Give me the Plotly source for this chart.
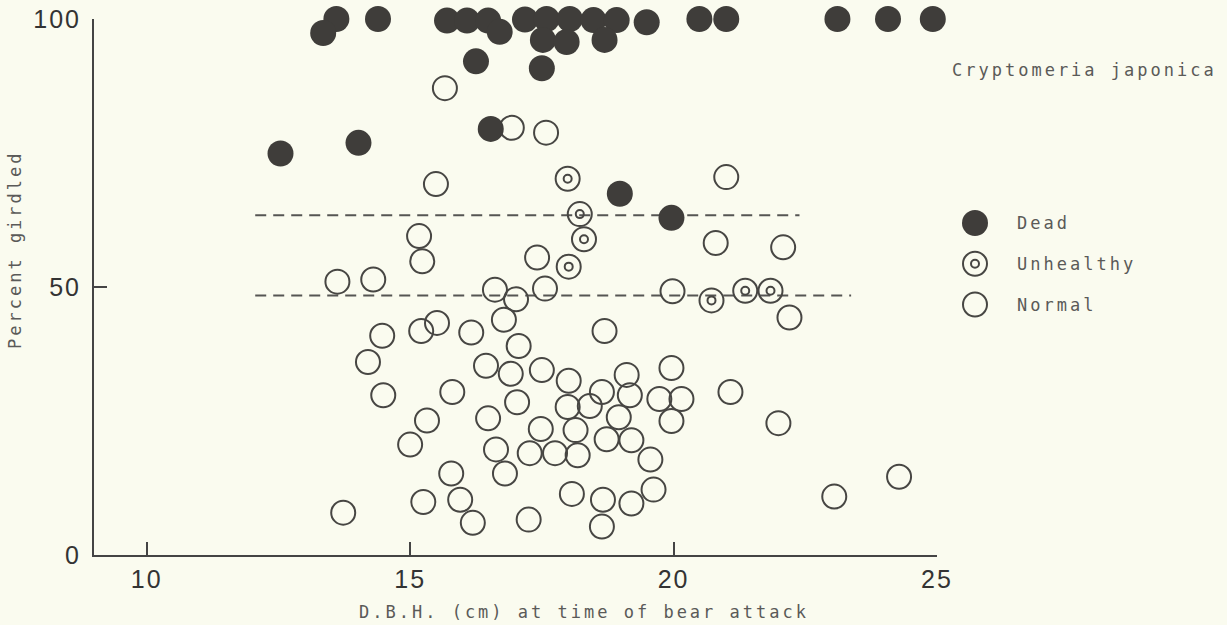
import plotly.graph_objects as go

# ---------------- data ----------------
dead_dbh = [13.60, 14.39, 15.70, 16.08, 16.48, 17.18, 17.59, 18.03, 18.48, 18.92,
            19.49, 20.49, 21.00, 23.11, 24.07, 24.92,
            13.35, 16.70, 17.52, 17.97, 18.69,
            16.25, 17.50, 16.53, 12.54, 14.02, 18.98, 19.96]
dead_pct = [100.0, 100.0, 99.7, 99.7, 99.7, 99.9, 100.0, 100.0, 99.8, 99.8,
            99.4, 100.0, 100.0, 100.0, 100.0, 100.0,
            97.4, 97.6, 96.1, 95.7, 96.1,
            92.1, 90.8, 79.5, 74.9, 76.9, 67.4, 62.9]

unhealthy_dbh = [17.99, 18.22, 18.30, 18.01, 20.72, 21.36, 21.84]
unhealthy_pct = [70.2, 63.6, 58.9, 53.8, 47.5, 49.3, 49.3]

normal_dbh = [15.66, 16.93, 17.58, 15.49, 21.00, 15.17, 15.23, 17.41, 20.80, 22.08,
              13.62, 14.30, 16.61, 17.01, 17.56, 19.98, 22.20, 16.78, 14.47, 15.21,
              15.51, 16.16, 18.69, 14.20, 17.06, 16.44, 16.91, 17.50, 18.01, 19.11,
              19.96, 14.49, 15.80, 17.03, 17.99, 18.41, 18.64, 19.17, 19.73, 20.15,
              21.08, 15.32, 16.48, 17.48, 18.14, 18.96, 19.96, 21.99, 15.00, 16.63,
              17.27, 17.75, 18.18, 18.73, 19.20, 19.56, 15.78, 16.80, 18.07, 18.66,
              19.20, 19.62, 15.25, 15.95, 16.19, 17.25, 18.64, 13.73, 23.05, 24.28]
normal_pct = [87.1, 79.7, 78.8, 69.2, 70.5, 59.5, 54.8, 55.5, 58.2, 57.4,
              51.0, 51.4, 49.5, 47.7, 49.7, 49.2, 44.3, 43.9, 40.9, 41.8,
              43.3, 41.5, 41.8, 36.0, 39.0, 35.3, 33.8, 34.5, 32.5, 33.6,
              34.9, 29.8, 30.4, 28.5, 27.6, 27.8, 30.4, 29.8, 29.1, 29.1,
              30.4, 25.1, 25.5, 23.5, 23.3, 25.7, 25.0, 24.6, 20.6, 19.7,
              19.0, 19.0, 18.6, 21.6, 21.4, 17.8, 15.2, 15.2, 11.4, 10.3,
              9.6, 12.2, 9.9, 10.3, 6.0, 6.6, 5.3, 7.9, 10.9, 14.6]

# dashed reference lines
threshold_pct = [63.4, 48.4]
threshold_from = [12.06, 12.06]
threshold_to = [22.39, 23.37]

x_ticks = [10, 15, 20, 25]
y_ticks = [0, 50, 100]
legend_labels = ["Dead", "Unhealthy", "Normal"]

species = "Cryptomeria japonica"
x_title = "D.B.H. (cm) at time of bear attack"
y_title = "Percent girdled"

# ---------------- style ----------------
BG = "#fafbef"
INK = "#3f3d3a"
RING = "#474643"
AXIS = "#444444"
TEXT_GRAY = "#5a5a58"
MONO = "DejaVu Sans Mono"
SANS = "Liberation Sans"

W, H = 1227, 625
ML, MR, MT, MB = 94, 0, 19, 70
PW = W - ML - MR
PH = H - MT - MB
main_right_px = 937


def spaced(s, px=3):
    return f'<span style="letter-spacing:{px}px">{s}</span>'


def px_to_paper_x(px):
    return (px - ML) / PW


def px_to_paper_y(py):
    return 1 - (py - MT) / PH


fig = go.Figure()

# dashed lines
for lvl, x0, x1 in zip(threshold_pct, threshold_from, threshold_to):
    fig.add_trace(go.Scatter(
        x=[x0, x1], y=[lvl, lvl], mode="lines",
        line=dict(color="#555553", width=2, dash="11px,7px"),
        hoverinfo="skip", showlegend=False))

ring_size = 24
ring_marker = dict(symbol="circle-open", size=ring_size, color=RING, line=dict(width=2, color=RING))
centre_marker = dict(symbol="circle-open", size=8, color=RING, line=dict(width=2, color=RING))
dead_marker = dict(symbol="circle", size=26, color=INK, line=dict(width=0, color=INK))

fig.add_trace(go.Scatter(x=normal_dbh, y=normal_pct, mode="markers", name="Normal",
                         marker=ring_marker, cliponaxis=False, showlegend=False))
fig.add_trace(go.Scatter(x=unhealthy_dbh, y=unhealthy_pct, mode="markers", name="Unhealthy",
                         marker=ring_marker, cliponaxis=False, showlegend=False))
fig.add_trace(go.Scatter(x=unhealthy_dbh, y=unhealthy_pct, mode="markers", name="Unhealthy centre",
                         marker=centre_marker, cliponaxis=False, showlegend=False, hoverinfo="skip"))
fig.add_trace(go.Scatter(x=dead_dbh, y=dead_pct, mode="markers", name="Dead",
                         marker=dead_marker, cliponaxis=False, showlegend=False))

# ---------------- hand-made legend on a hidden axis pair ----------------
legend_markers = {"Dead": [dead_marker], "Unhealthy": [ring_marker, centre_marker], "Normal": [ring_marker]}
for lab in legend_labels:
    for mk in legend_markers[lab]:
        fig.add_trace(go.Scatter(x=[0], y=[lab], xaxis="x2", yaxis="y2", mode="markers",
                                 marker=mk, cliponaxis=False, showlegend=False, hoverinfo="skip"))

annotations = []
for lab in legend_labels:
    annotations.append(dict(
        x=0, y=lab, xref="x2", yref="y2", xanchor="left", yanchor="middle",
        xshift=40, text=spaced(lab, 3), showarrow=False,
        font=dict(family=MONO, size=17, color=TEXT_GRAY)))

annotations.append(dict(
    x=px_to_paper_x(950), y=px_to_paper_y(70), xref="paper", yref="paper",
    xanchor="left", yanchor="middle", text=spaced(species, 3), showarrow=False,
    font=dict(family=MONO, size=17, color=TEXT_GRAY)))
annotations.append(dict(
    x=px_to_paper_x(584), y=px_to_paper_y(612), xref="paper", yref="paper",
    xanchor="center", yanchor="middle", text=spaced(x_title, 3), showarrow=False,
    font=dict(family=MONO, size=17, color=TEXT_GRAY)))
annotations.append(dict(
    x=px_to_paper_x(15), y=px_to_paper_y(250), xref="paper", yref="paper",
    xanchor="center", yanchor="middle", text=spaced(y_title, 3), textangle=-90,
    showarrow=False, font=dict(family=MONO, size=17, color=TEXT_GRAY)))

tick_font = dict(family=SANS, size=25, color="#333333")

leg_left_px = 955
fig.update_layout(
    width=W, height=H, autosize=False,
    margin=dict(l=ML, r=MR, t=MT, b=MB, pad=0, autoexpand=False),
    paper_bgcolor=BG, plot_bgcolor=BG,
    showlegend=False,
    annotations=annotations,
    xaxis=dict(
        domain=[0, (main_right_px - ML) / PW], automargin=False,
        range=[9.0, 25.0], tickvals=x_ticks, ticktext=[spaced(str(v), 2) for v in x_ticks],
        ticks="inside", ticklen=13, tickwidth=2, tickcolor=AXIS,
        showline=True, linecolor=AXIS, linewidth=2, mirror=False,
        showgrid=False, zeroline=False, anchor="y",
        tickfont=tick_font, ticklabelstandoff=1,
    ),
    yaxis=dict(
        domain=[0, 1], range=[0, 100], automargin=False,
        tickvals=y_ticks, ticktext=[spaced(str(v), 2) for v in y_ticks],
        ticks="inside", ticklen=13, tickwidth=2, tickcolor=AXIS,
        showline=True, linecolor=AXIS, linewidth=2,
        showgrid=False, zeroline=False, anchor="x",
        tickfont=tick_font, ticklabelstandoff=6,
    ),
    xaxis2=dict(domain=[px_to_paper_x(leg_left_px), 1], range=[-2, (W - leg_left_px) / 10 - 2],
                visible=False, anchor="y2", fixedrange=True, automargin=False),
    yaxis2=dict(domain=[0, 1], type="category", categoryarray=legend_labels,
                range=[8.15, -5.01], visible=False, anchor="x2", fixedrange=True, automargin=False),
)

fig.write_html(
    "out.html",
    config={"displayModeBar": False, "responsive": False},
    post_script=(
        "document.documentElement.style.overflow='hidden';"
        "document.body.style.overflow='hidden';"
        "document.body.style.margin='0';"
        f"document.body.style.background='{BG}';"
    ),
)
